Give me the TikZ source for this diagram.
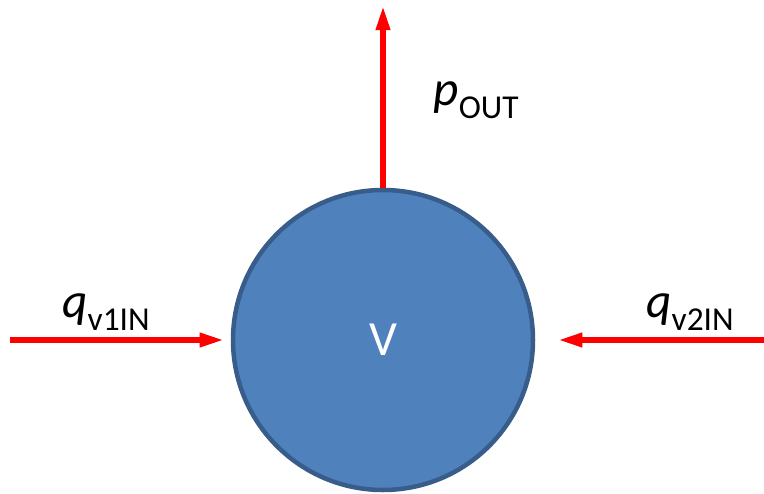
\documentclass[tikz,border=0pt]{standalone}
\usepackage{fontspec}
\setmainfont{Carlito}
\usetikzlibrary{arrows.meta,positioning}
\definecolor{volfill}{RGB}{79,129,189}
\definecolor{voledge}{RGB}{56,93,138}
\newcommand{\flowlbl}[2]{\textit{#1}\raisebox{-0.55ex}{\fontsize{19}{19}\selectfont #2}}

\begin{document}
\begin{tikzpicture}[x=0.2mm,y=-0.2mm,font=\fontsize{28}{28}\selectfont,
  vol/.style={circle,draw=voledge,fill=volfill,line width=0.9mm,minimum size=60mm,inner sep=0pt,text=white},
  flow/.style={draw=red,line width=1.2mm,-{Triangle[length=5mm,width=2.6mm]}}]
  \useasboundingbox (0,0) rectangle (764,494);
  % volume
  \node[vol] (v) at (383,340) {V};
  % stroemungen
  \coordinate (top) at (383,5);
  \coordinate (lin) at (10,340);
  \coordinate (rin) at (764,340);
  \draw[flow] (v.north) -- (top);
  \draw[flow,shorten >=1.2mm] (lin) -- (v.west);
  \draw[flow,shorten >=4.4mm] (rin) -- (v.east);
  \node (pout) at (476,100) {\flowlbl{p}{OUT}};
  \node (q1) at (106,312) {\flowlbl{q}{v1IN}};
  \node (q2) at (690,312) {\flowlbl{q}{v2IN}};
\end{tikzpicture}
\end{document}
